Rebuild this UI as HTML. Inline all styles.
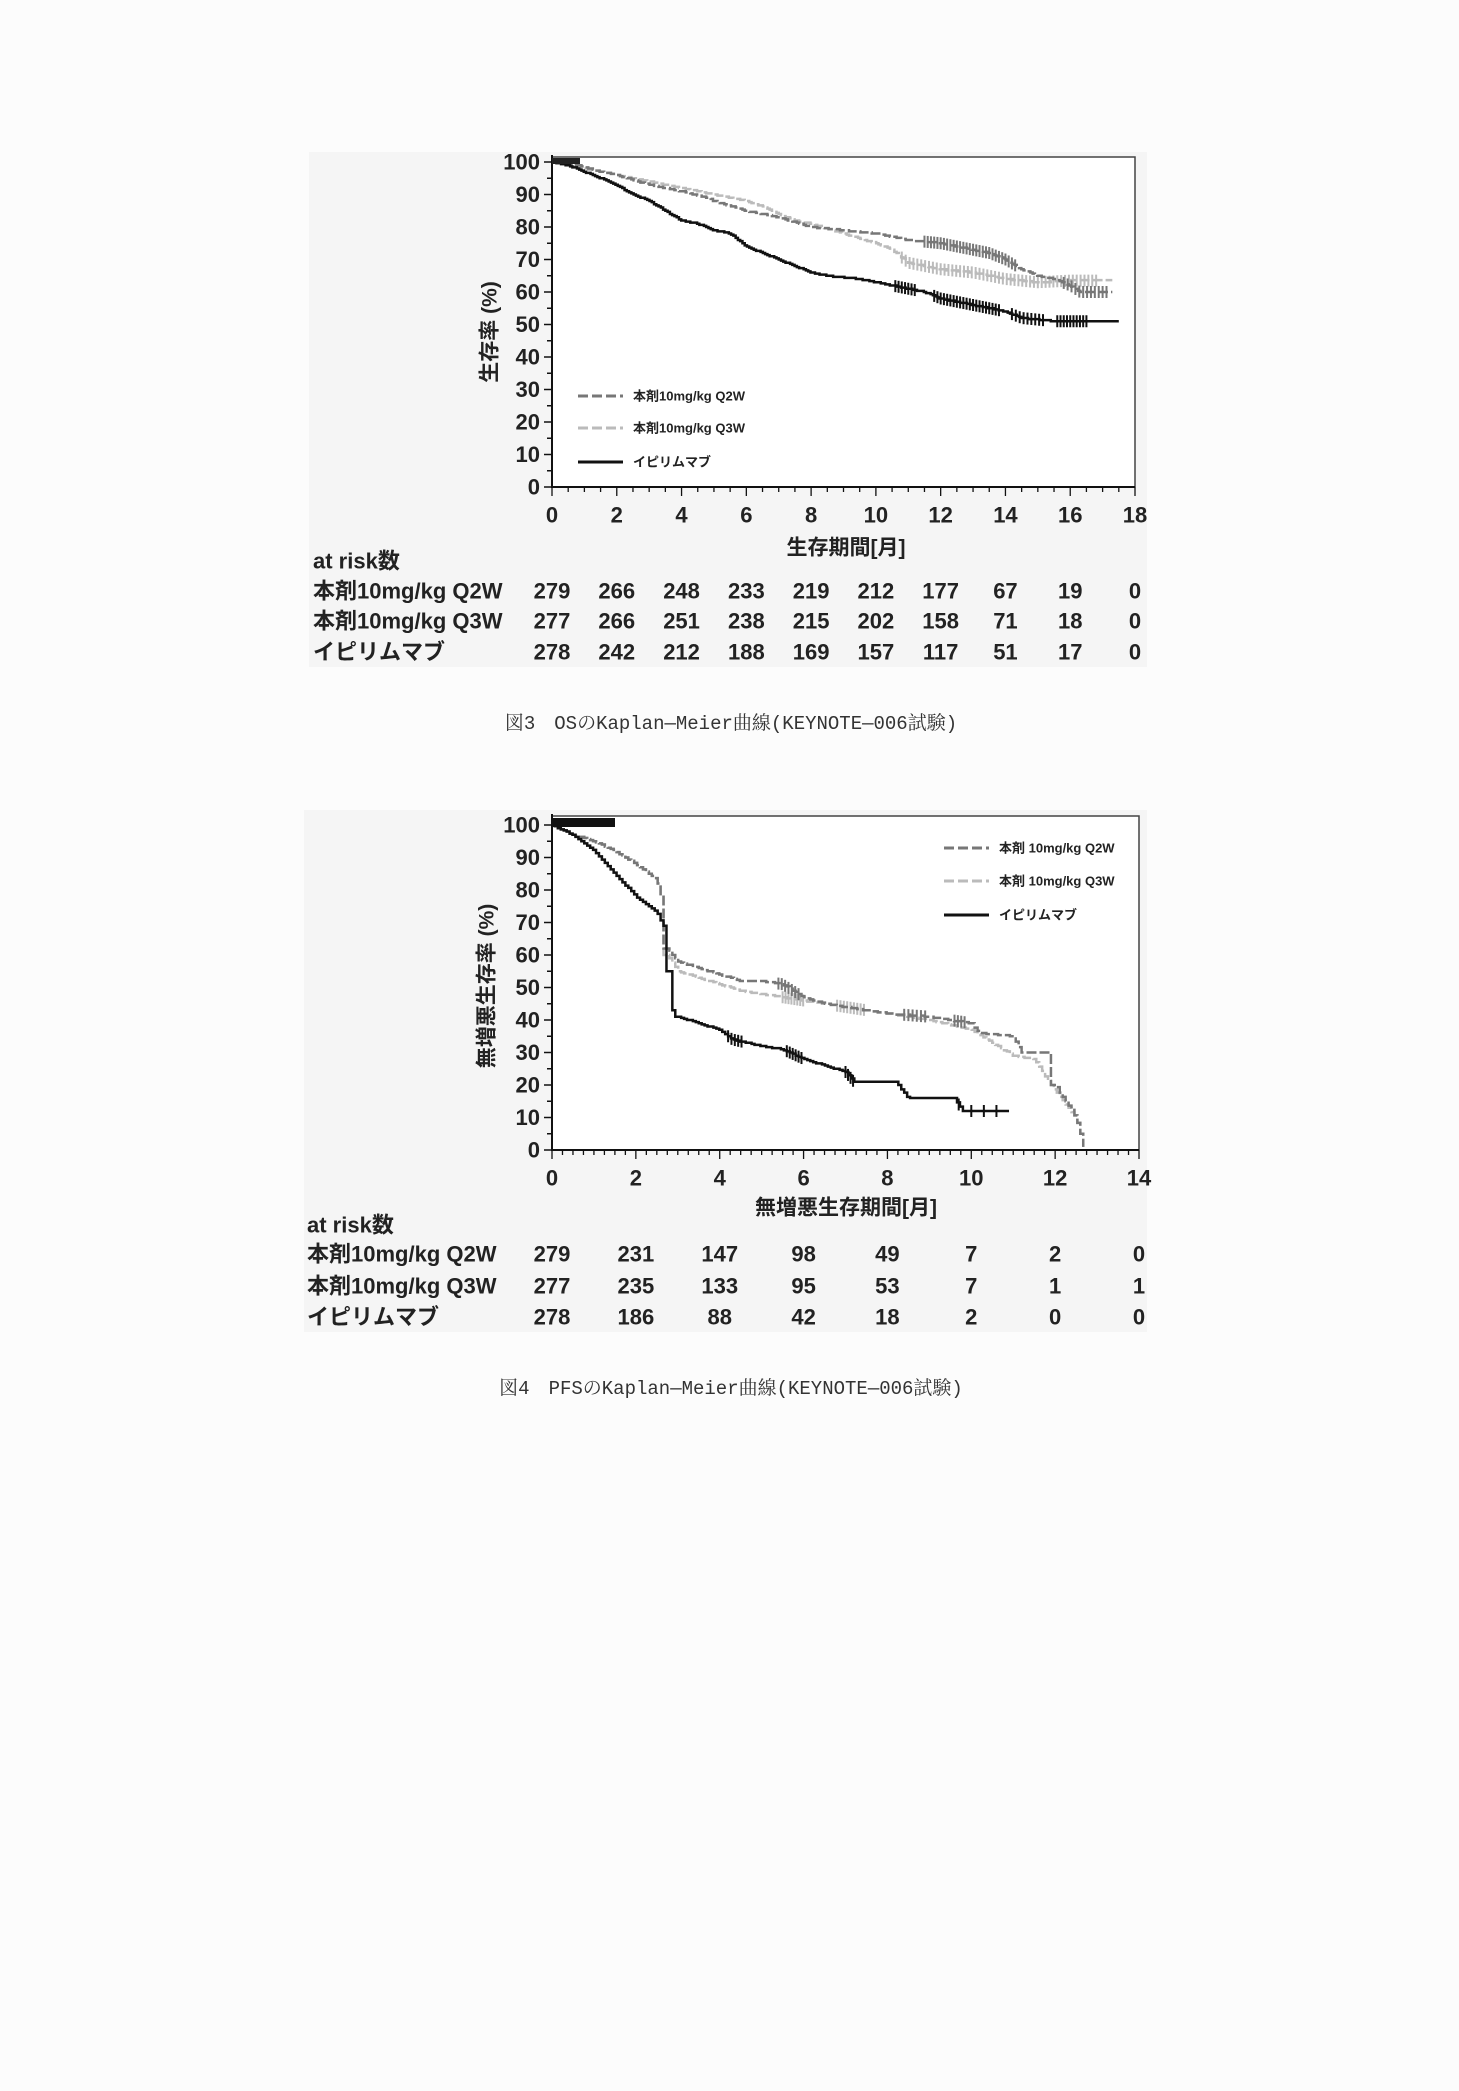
<!DOCTYPE html>
<html><head><meta charset="utf-8">
<style>
body{margin:0;background:#fcfcfc;}
#c{position:absolute;left:0;top:0;}
</style></head>
<body>
<svg id="c" width="1459" height="2091" xmlns="http://www.w3.org/2000/svg" font-family="'Liberation Sans','Noto Sans CJK JP',sans-serif">
<rect x="0" y="0" width="1459" height="2091" fill="#fcfcfc"/>
<rect x="309" y="152" width="838" height="515" fill="#f5f5f5"/>
<rect x="304" y="810" width="843" height="522" fill="#f5f5f5"/>
<rect x="552" y="157" width="583" height="330" fill="#fff"/>
<rect x="552" y="816" width="587" height="334" fill="#fff"/>
<g id="g"></g>
<text x="490" y="332" transform="rotate(-90 490 332)" text-anchor="middle" dominant-baseline="central" font-size="21" font-weight="bold" fill="#222">生存率 (%)</text>
<text x="846" y="548" text-anchor="middle" dominant-baseline="central" font-size="21" font-weight="bold" fill="#222">生存期間[月]</text>
<text x="487" y="986" transform="rotate(-90 487 986)" text-anchor="middle" dominant-baseline="central" font-size="21" font-weight="bold" fill="#222">無増悪生存率 (%)</text>
<text x="846" y="1208" text-anchor="middle" dominant-baseline="central" font-size="21" font-weight="bold" fill="#222">無増悪生存期間[月]</text>
<text x="731" y="724" text-anchor="middle" dominant-baseline="central" font-size="19" fill="#333" font-family="'Liberation Mono','Noto Serif CJK SC',monospace">図3　OSのKaplan—Meier曲線(KEYNOTE—006試験)</text>
<text x="731" y="1389" text-anchor="middle" dominant-baseline="central" font-size="19" fill="#333" font-family="'Liberation Mono','Noto Serif CJK SC',monospace">図4　PFSのKaplan—Meier曲線(KEYNOTE—006試験)</text>
</svg>
<script>
const NS="http://www.w3.org/2000/svg",G=document.getElementById('g');
function el(t,a,txt){const e=document.createElementNS(NS,t);for(const k in a)e.setAttribute(k,a[k]);if(txt!=null)e.textContent=txt;G.appendChild(e);return e;}
function interp(d,m){if(m<=d[0][0])return d[0][1];for(let i=1;i<d.length;i++){if(m<=d[i][0]){const a=d[i-1],b=d[i];if(b[0]-a[0]<0.12)return b[1];return a[1]+(b[1]-a[1])*(m-a[0])/(b[0]-a[0]);}}return d[d.length-1][1];}
function chart(o){
 const X=m=>o.x0+(o.x1-o.x0)*m/o.xmax, Y=p=>o.y0+(o.y100-o.y0)*p/100;
 el('path',{d:`M${o.x0} ${o.top}H${o.x1}V${o.y0}`,stroke:'#444','stroke-width':1.5,fill:'none'});
 el('path',{d:`M${o.x0} ${o.top-2}V${o.y0}H${o.x1}`,stroke:'#111','stroke-width':2,fill:'none'});
 for(let p=0;p<=100;p+=5){const big=p%10==0;el('line',{x1:o.x0-(big?8:5),x2:o.x0,y1:Y(p),y2:Y(p),stroke:'#111','stroke-width':1.5});
  if(big)el('text',{x:o.x0-12,y:Y(p),'text-anchor':'end','dominant-baseline':'central','font-size':22,'font-weight':'bold',fill:'#222'},p);}
 for(let m=0;m<=o.xmax+1e-6;m+=o.minor){const big=Math.abs(m/2-Math.round(m/2))<1e-6;el('line',{x1:X(m),x2:X(m),y1:o.y0,y2:o.y0+(big?9:5),stroke:'#111','stroke-width':1.3});}
 for(let m=0;m<=o.xmax;m+=2){el('text',{x:X(m),y:o.xl,'text-anchor':'middle','dominant-baseline':'central','font-size':22,'font-weight':'bold',fill:'#222'},m);}
 o.series.forEach(s=>{
  const st=0.07;let prev=s.d[0][1];let d=`M${X(0)} ${Y(prev)}`;
  for(let m=st;m<=s.end+1e-6;m+=st){let p=interp(s.d,m);p=Math.round(p*3)/3;if(p!==prev){d+=`H${X(m)}V${Y(p)}`;prev=p;}}
  d+=`H${X(s.end)}`;
  el('path',{d,stroke:s.c,'stroke-width':2.5,fill:'none','stroke-dasharray':s.da||'none'});
  s.cens.forEach(r=>{for(let m=r[0];m<=r[1];m+=(r[2]||0.07)){const p=interp(s.d,m);
   el('line',{x1:X(m),x2:X(m),y1:Y(p)-6,y2:Y(p)+6,stroke:s.c,'stroke-width':2});}});
 });
 o.leg.forEach((l,i)=>{el('line',{x1:o.lx,x2:o.lx+45,y1:o.ly[i],y2:o.ly[i],stroke:l.c,'stroke-width':3,'stroke-dasharray':l.da||'none'});
  el('text',{x:o.lx+55,y:o.ly[i],'dominant-baseline':'central','font-size':13,'font-weight':'bold',fill:'#222'},l.t);});
 el('text',{x:o.lbx,y:o.ar,'dominant-baseline':'central','font-size':22,'font-weight':'bold',fill:'#222'},'at risk数');
 o.rows.forEach((r,i)=>{el('text',{x:o.lbx,y:o.ry[i],'dominant-baseline':'central','font-size':22,'font-weight':'bold',fill:'#222'},r[0]);
  r[1].forEach((v,j)=>el('text',{x:X(j*2),y:o.ry[i],'text-anchor':'middle','dominant-baseline':'central','font-size':22,'font-weight':'bold',fill:'#222'},v));});
}
const C2='#777',C3='#bbb',CI='#111';
chart({x0:552,x1:1135,xmax:18,top:157,y0:487,y100:162,xl:515,minor:0.5,
 series:[
 {c:C3,da:'10 3',end:17.3,d:[[0,100],[0.6,99],[1,98],[2,96],[3,94],[4,92],[5,90],[6,88],[6.6,86],[7,84],[7.5,82],[8,81],[9,78],[10,75],[10.5,73],[11,69],[12,67],[13,66],[14,64],[15,63],[16,63.5],[17.3,63.5]],cens:[[10.8,16.9,0.12]]},
 {c:C2,da:'10 3',end:17.3,d:[[0,100],[0.8,99],[1.5,97],[2,96],[3,93],[4,91],[4.8,89],[5,88],[6,85],[7,83],[8,80],[9,79],[10,78],[11,76],[12,75],[13,73],[13.5,72],[14,70],[14.5,67],[15,65],[15.5,64],[16,62],[16.3,60],[17.3,60]],cens:[[11.5,14.3,0.1],[15.8,17.2,0.12]]},
 {c:CI,end:17.5,d:[[0,100],[0.5,99],[1,97],[1.5,95],[2,93],[2.3,91],[3,88],[3.5,85],[4,82],[4.5,81],[5,79],[5.5,78],[6,74],[6.5,72],[7,70],[7.5,68],[8,66],[8.5,65],[9.5,64],[10,63],[10.5,62],[11,61],[11.5,60],[12,58],[12.5,57],[13,56],[14,54],[14.5,52],[15.5,51],[17.5,51]],cens:[[10.6,11.2,0.1],[11.8,13.8,0.1],[14.2,15.2,0.12],[15.6,16.6,0.1]]}
 ],
 leg:[{c:C2,da:'10 4',t:'本剤10mg/kg Q2W'},{c:C3,da:'10 4',t:'本剤10mg/kg Q3W'},{c:CI,t:'イピリムマブ'}],lx:578,ly:[396,428,462],
 lbx:313,ar:561,ry:[591,621,652],
 rows:[['本剤10mg/kg Q2W',[279,266,248,233,219,212,177,67,19,0]],['本剤10mg/kg Q3W',[277,266,251,238,215,202,158,71,18,0]],['イピリムマブ',[278,242,212,188,169,157,117,51,17,0]]]
});
chart({x0:552,x1:1139,xmax:14,top:816,y0:1150,y100:825,xl:1178,minor:0.25,
 series:[
 {c:C3,da:'10 3',end:12.7,d:[[0,100],[0.5,97],[1,95],[1.5,92],[2,88],[2.5,83],[2.65,75],[2.75,60],[3,55],[3.5,53],[4,51],[4.5,49],[5,48],[6,46],[7,44],[8,42],[9,40],[10,37],[10.5,33],[11,29],[11.5,28],[11.9,20],[12.2,15],[12.5,10],[12.7,0]],cens:[[5.5,6],[6.8,7.5,0.08]]},
 {c:C2,da:'10 3',end:12.7,d:[[0,100],[0.5,97],[1,95],[1.5,92],[2,88],[2.5,83],[2.65,75],[2.75,62],[3,58],[3.5,56],[4,54],[4.5,52],[5,52],[5.5,51],[6,47],[6.5,45],[7,44],[8,42],[9,41],[10,39],[10.2,36],[11,35],[11.2,30],[11.9,30],[12,20],[12.5,10],[12.7,0]],cens:[[5.4,5.9,0.08],[8.4,8.9,0.1],[9.6,9.9,0.08]]},
 {c:CI,end:10.9,d:[[0,100],[0.5,97],[1,92],[1.5,85],[2,78],[2.5,73],[2.7,68],[2.8,55],[2.9,43],[3,41],[3.5,39],[4,37],[4.3,34],[5,32],[5.5,31],[6,28],[6.5,26],[7,24],[7.2,21],[8.2,21],[8.5,16],[9.6,16],[9.8,12],[10.9,12]],cens:[[4.2,4.6,0.08],[5.6,6,0.07],[7,7.2,0.06],[9.7,10.9,0.3]]}
 ],
 leg:[{c:C2,da:'10 4',t:'本剤 10mg/kg Q2W'},{c:C3,da:'10 4',t:'本剤 10mg/kg Q3W'},{c:CI,t:'イピリムマブ'}],lx:944,ly:[848,881,915],
 lbx:307,ar:1225,ry:[1254,1286,1317],
 rows:[['本剤10mg/kg Q2W',[279,231,147,98,49,7,2,0]],['本剤10mg/kg Q3W',[277,235,133,95,53,7,1,1]],['イピリムマブ',[278,186,88,42,18,2,0,0]]]
});
el('rect',{x:552,y:158,width:28,height:6,fill:'#222'});
el('rect',{x:552,y:818,width:63,height:9,fill:'#111'});
</script>
</body></html>
